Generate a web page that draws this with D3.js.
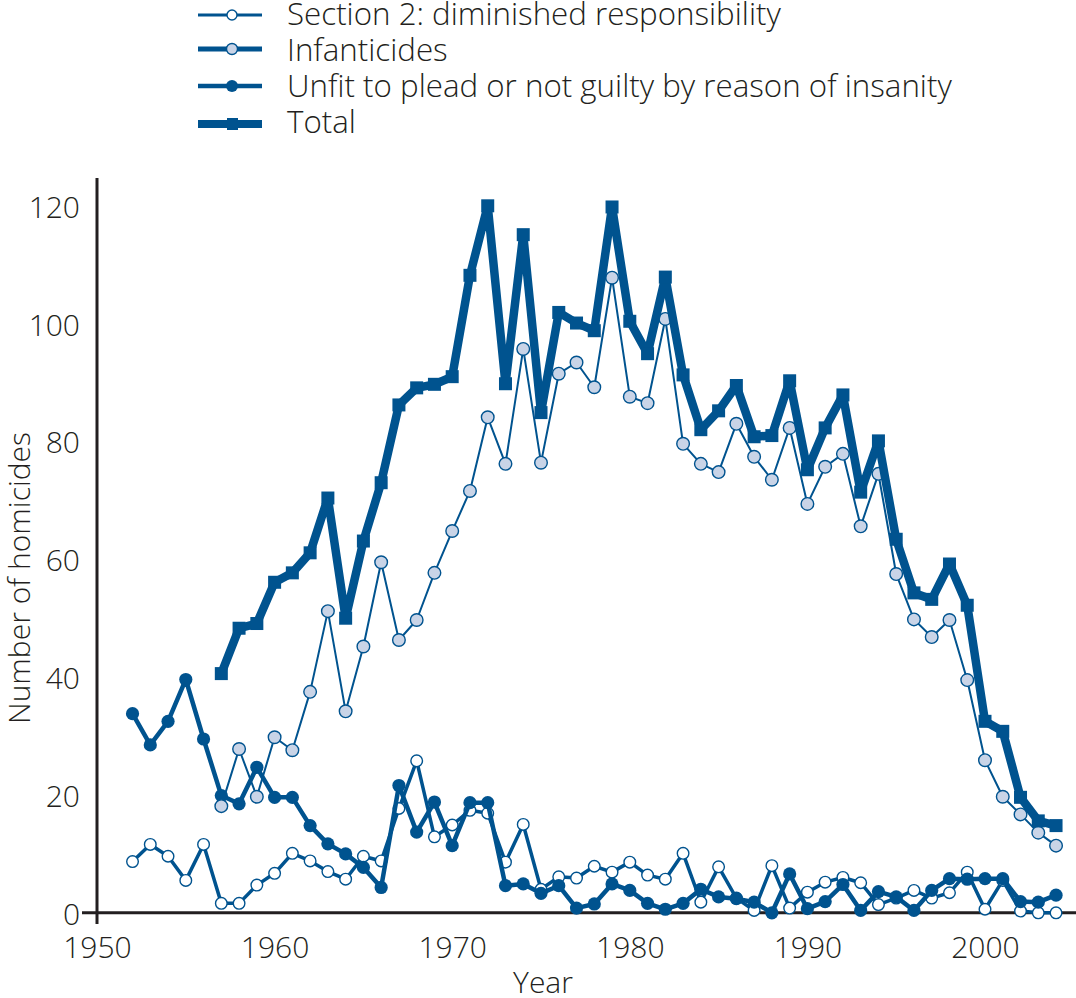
<!DOCTYPE html>
<html>
<head>
<meta charset="utf-8">
<script src="https://cdn.jsdelivr.net/npm/d3@7"></script>
<style>
  html, body { margin: 0; padding: 0; background: #ffffff; }
  svg { display: block; }
  text { font-family: "Open Sans", Lato, "DejaVu Sans", sans-serif; font-weight: 300; fill: #231f20; }
</style>
</head>
<body>
<svg id="chart" width="1076" height="998"></svg>
<script>
// ---------- data ----------
const yearsLong = d3.range(1952, 2005);   // 1952..2004
const yearsShort = d3.range(1957, 2005);  // 1957..2004

const section2 = [8.7, 11.6, 9.6, 5.5, 11.6, 1.6, 1.6, 4.7, 6.7, 10.1,
  8.8, 7.0, 5.7, 9.6, 8.8, 17.7, 25.8, 12.9, 14.9, 17.4,
  16.9, 8.6, 15.0, 4.0, 6.1, 5.9, 7.9, 6.9, 8.6, 6.4,
  5.7, 10.1, 1.8, 7.8, 2.5, 0.4, 8.0, 0.8, 3.5, 5.2,
  6.0, 5.1, 1.4, 2.5, 3.8, 2.5, 3.4, 6.9, 0.6, 5.5,
  0.3, 0.0, 0.0];

const unfit = [33.8, 28.5, 32.5, 39.6, 29.5, 19.9, 18.5, 24.7, 19.6, 19.6,
  14.8, 11.7, 10.0, 7.7, 4.3, 21.6, 13.7, 18.8, 11.4, 18.7,
  18.7, 4.6, 4.9, 3.3, 4.6, 0.8, 1.5, 4.9, 3.8, 1.6,
  0.6, 1.6, 4.0, 2.7, 2.4, 1.8, 0.0, 6.6, 0.7, 1.9,
  4.8, 0.4, 3.6, 2.7, 0.4, 3.8, 5.8, 5.7, 5.8, 5.8,
  1.9, 1.8, 3.0];

const infanticides = [18.1, 27.8, 19.7, 29.8, 27.6, 37.5, 51.2, 34.2, 45.2, 59.5,
  46.3, 49.7, 57.7, 64.8, 71.6, 84.1, 76.2, 95.7, 76.4, 91.5,
  93.4, 89.2, 107.8, 87.6, 86.5, 100.8, 79.6, 76.2, 74.8, 83.0,
  77.4, 73.5, 82.3, 69.4, 75.7, 77.9, 65.6, 74.5, 57.5, 49.8,
  46.8, 49.7, 39.5, 25.9, 19.7, 16.7, 13.6, 11.4];

const total = [40.6, 48.3, 49.1, 56.1, 57.7, 61.1, 70.4, 50.0, 63.1, 73.0,
  86.2, 89.1, 89.7, 91.0, 108.2, 120.0, 89.8, 115.1, 84.9, 101.9,
  100.1, 98.8, 119.8, 100.4, 94.9, 107.9, 91.3, 82.0, 85.2, 89.5,
  80.8, 81.0, 90.3, 75.2, 82.3, 87.9, 71.4, 80.1, 63.4, 54.3,
  53.2, 59.2, 52.2, 32.5, 30.8, 19.6, 15.6, 14.8];

const xTicks = [1950, 1960, 1970, 1980, 1990, 2000];
const yTicks = [0, 20, 40, 60, 80, 100, 120];

const legendLabels = [
  "Section 2: diminished responsibility",
  "Infanticides",
  "Unfit to plead or not guilty by reason of insanity",
  "Total"
];

// ---------- setup ----------
const BLUE = "#00538f";
const LIGHT = "#c9d4e7";
const INK = "#231f20";
const FONT = "'Open Sans', Lato, sans-serif";

const svg = d3.select("#chart");
const x = d3.scaleLinear().domain([1950, 2005]).range([97, 1073.8]);
const y = d3.scaleLinear().domain([0, 120]).range([912.8, 205.8]);

const zip = (ys, vs) => ys.map((yr, i) => ({ year: yr, v: vs[i] }));
const line = d3.line().x(d => x(d.year)).y(d => y(d.v));

// ---------- axes ----------
const yAxis = svg.append("g")
  .attr("transform", `translate(${x(1950)},0)`)
  .call(d3.axisLeft(y).tickValues(yTicks).tickSize(0).tickPadding(17));
yAxis.select(".domain").remove();
yAxis.selectAll("text")
  .attr("dy", "0.38em")
  .style("font-size", "30px")
  .style("font-family", FONT)
  .style("font-weight", 300)
  .attr("fill", INK);

const xAxis = svg.append("g")
  .attr("transform", `translate(0,${y(0)})`)
  .call(d3.axisBottom(x).tickValues(xTicks).tickFormat(d3.format("d")).tickSize(0).tickPadding(24));
xAxis.select(".domain").remove();
xAxis.selectAll("text")
  .style("font-size", "30px")
  .style("font-family", FONT)
  .style("font-weight", 300)
  .attr("fill", INK);

// axis lines (cross at origin)
svg.append("line")
  .attr("x1", x(1950)).attr("x2", x(1950))
  .attr("y1", 178).attr("y2", 924)
  .attr("stroke", INK).attr("stroke-width", 3);
svg.append("line")
  .attr("x1", 82).attr("x2", 1076)
  .attr("y1", y(0)).attr("y2", y(0))
  .attr("stroke", INK).attr("stroke-width", 3);

// axis titles
svg.append("text")
  .attr("x", 543).attr("y", 993)
  .attr("text-anchor", "middle")
  .style("font-size", "30px")
  .text("Year");
svg.append("text")
  .attr("transform", "translate(30,578) rotate(-90)")
  .attr("text-anchor", "middle")
  .style("font-size", "30px")
  .text("Number of homicides");

// ---------- series ----------
const s2Data = zip(yearsLong, section2);
const unfitData = zip(yearsLong, unfit);
const infData = zip(yearsShort, infanticides);
const totalData = zip(yearsShort, total);

// Section 2
svg.append("path").datum(s2Data)
  .attr("d", line).attr("fill", "none")
  .attr("stroke", BLUE).attr("stroke-width", 3.5).attr("stroke-linejoin", "round");
svg.append("g").selectAll("circle").data(s2Data).join("circle")
  .attr("cx", d => x(d.year)).attr("cy", d => y(d.v)).attr("r", 5.8)
  .attr("fill", "#ffffff").attr("stroke", BLUE).attr("stroke-width", 1.4);

// Unfit
svg.append("path").datum(unfitData)
  .attr("d", line).attr("fill", "none")
  .attr("stroke", BLUE).attr("stroke-width", 4.5).attr("stroke-linejoin", "round");
svg.append("g").selectAll("circle").data(unfitData).join("circle")
  .attr("cx", d => x(d.year)).attr("cy", d => y(d.v)).attr("r", 6.6)
  .attr("fill", BLUE);

// Infanticides
svg.append("path").datum(infData)
  .attr("d", line).attr("fill", "none")
  .attr("stroke", BLUE).attr("stroke-width", 2).attr("stroke-linejoin", "round");
svg.append("g").selectAll("circle").data(infData).join("circle")
  .attr("cx", d => x(d.year)).attr("cy", d => y(d.v)).attr("r", 6.3)
  .attr("fill", LIGHT).attr("stroke", BLUE).attr("stroke-width", 1.4);

// Total
svg.append("path").datum(totalData)
  .attr("d", line).attr("fill", "none")
  .attr("stroke", BLUE).attr("stroke-width", 8.5)
  .attr("stroke-linejoin", "miter").attr("stroke-miterlimit", 1.6);
const SQ = 13;
svg.append("g").selectAll("rect").data(totalData).join("rect")
  .attr("x", d => x(d.year) - SQ / 2).attr("y", d => y(d.v) - SQ / 2)
  .attr("width", SQ).attr("height", SQ)
  .attr("fill", BLUE);

// ---------- legend ----------
const legY = [15, 49, 86, 124];
const legTextY = [25, 61, 97, 133];
const legWidths = [3, 5, 4.5, 8];
const lg = svg.append("g");
legendLabels.forEach((lab, i) => {
  lg.append("line")
    .attr("x1", 198).attr("x2", 262).attr("y1", legY[i]).attr("y2", legY[i])
    .attr("stroke", BLUE).attr("stroke-width", legWidths[i]);
  if (i === 0) {
    lg.append("circle").attr("cx", 232).attr("cy", legY[i]).attr("r", 5)
      .attr("fill", "#fff").attr("stroke", BLUE).attr("stroke-width", 1.4);
  } else if (i === 1) {
    lg.append("circle").attr("cx", 232).attr("cy", legY[i]).attr("r", 5.5)
      .attr("fill", LIGHT).attr("stroke", BLUE).attr("stroke-width", 1.4);
  } else if (i === 2) {
    lg.append("circle").attr("cx", 232).attr("cy", legY[i]).attr("r", 6)
      .attr("fill", BLUE);
  } else {
    lg.append("rect").attr("x", 227).attr("y", legY[i] - 6).attr("width", 11).attr("height", 12)
      .attr("fill", BLUE);
  }
  lg.append("text")
    .attr("x", 287).attr("y", legTextY[i])
    .style("font-size", "31.3px")
    .text(lab);
});
</script>
</body>
</html>
